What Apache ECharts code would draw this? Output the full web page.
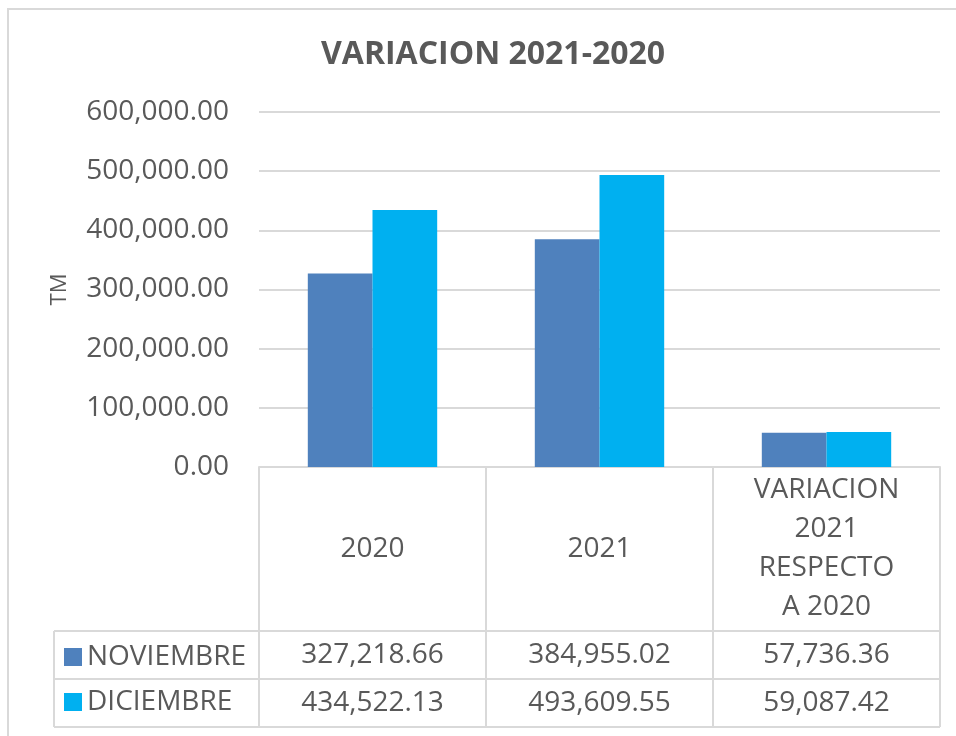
<!DOCTYPE html>
<html>
<head>
<meta charset="utf-8">
<script src="https://cdn.jsdelivr.net/npm/echarts@6/dist/echarts.min.js"></script>
<style>
  html, body { margin: 0; padding: 0; background: #fff; }
  #chart { width: 956px; height: 736px; }
</style>
</head>
<body>
<div id="chart"></div>
<script>
const categories = ['2020', '2021', 'VARIACION\n2021\nRESPECTO\nA 2020']
const noviembre = [327218.66, 384955.02, 57736.36]
const diciembre = [434522.13, 493609.55, 59087.42]
const seriesNames = ['NOVIEMBRE', 'DICIEMBRE']
const yTicks = [0, 100000, 200000, 300000, 400000, 500000, 600000]

const fmt = v => v.toLocaleString('en-US', { minimumFractionDigits: 2, maximumFractionDigits: 2 })

const font = '"Open Sans", sans-serif'
const textColor = '#595959'
const lineColor = '#d9d9d9'

// table rows under the plot, drawn as extra x axes
const tableAxis = (offset, values) => ({
  type: 'category',
  data: categories,
  position: 'bottom',
  offset: offset,
  axisLine: { show: true, lineStyle: { color: lineColor, width: 2 } },
  axisTick: { show: true, interval: 0, length: 48, lineStyle: { color: lineColor, width: 2 } },
  axisLabel: {
    interval: 0,
    margin: 24,
    verticalAlign: 'middle',
    color: textColor,
    fontFamily: font,
    fontSize: 28,
    formatter: (val, idx) => fmt(values[idx])
  }
})

const chart = echarts.init(document.getElementById('chart'))
const option = {
  animation: false,
  title: {
    text: 'VARIACION 2021-2020',
    left: 316,
    top: 34,
    textStyle: { color: textColor, fontFamily: font, fontSize: 32, fontWeight: 'bold' }
  },
  legend: {
    data: seriesNames,
    orient: 'vertical',
    left: 59,
    top: 638,
    itemWidth: 18,
    itemHeight: 18,
    itemGap: 17,
    icon: 'rect',
    textStyle: { color: textColor, fontFamily: font, fontSize: 28 }
  },
  grid: { left: 259, right: 16, top: 112, bottom: 269 },
  xAxis: [
    {
      type: 'category',
      data: categories,
      axisLine: { show: true, lineStyle: { color: lineColor, width: 2 } },
      axisTick: { show: true, interval: 0, length: 164, lineStyle: { color: lineColor, width: 2 } },
      axisLabel: {
        interval: 0,
        margin: 82,
        verticalAlign: 'middle',
        lineHeight: 39,
        color: textColor,
        fontFamily: font,
        fontSize: 28
      }
    },
    tableAxis(164, noviembre),
    tableAxis(212, diciembre)
  ],
  yAxis: {
    type: 'value',
    min: yTicks[0],
    max: yTicks[yTicks.length - 1],
    interval: 100000,
    name: 'TM',
    nameLocation: 'middle',
    nameGap: 188,
    nameRotate: 90,
    nameTextStyle: { color: textColor, fontFamily: font, fontSize: 22 },
    axisLine: { show: false },
    axisTick: { show: false },
    splitLine: { lineStyle: { color: lineColor, width: 2 } },
    axisLabel: { margin: 30, color: textColor, fontFamily: font, fontSize: 28, formatter: v => fmt(v) }
  },
  series: [
    {
      name: seriesNames[0],
      type: 'bar',
      data: noviembre,
      barGap: '0%',
      barCategoryGap: '43%',
      itemStyle: { color: '#4f81bd' }
    },
    {
      name: seriesNames[1],
      type: 'bar',
      data: diciembre,
      itemStyle: { color: '#00b0f0' }
    }
  ],
  graphic: [
    // outer chart border
    { type: 'rect', shape: { x: 8, y: 9, width: 960, height: 740 }, style: { fill: 'none', stroke: lineColor, lineWidth: 2 } },
    // legend column cells
    { type: 'line', shape: { x1: 54, y1: 631, x2: 259, y2: 631 }, style: { stroke: lineColor, lineWidth: 2 } },
    { type: 'line', shape: { x1: 54, y1: 679, x2: 259, y2: 679 }, style: { stroke: lineColor, lineWidth: 2 } },
    { type: 'line', shape: { x1: 54, y1: 727, x2: 940, y2: 727 }, style: { stroke: lineColor, lineWidth: 2 } },
    { type: 'line', shape: { x1: 54, y1: 631, x2: 54, y2: 727 }, style: { stroke: lineColor, lineWidth: 2 } }
  ]
}
chart.setOption(option)
</script>
</body>
</html>
